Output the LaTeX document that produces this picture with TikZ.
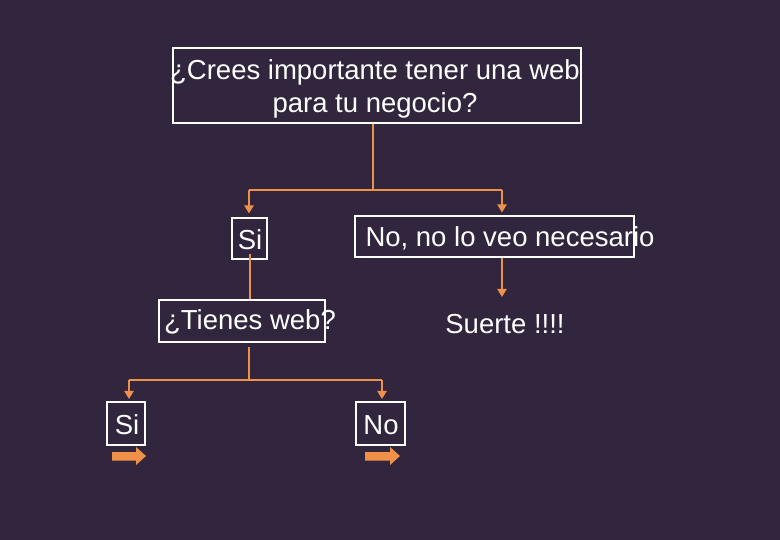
\documentclass[tikz,border=0pt]{standalone}
\usepackage{fontspec}
\setmainfont{Liberation Sans}
\usetikzlibrary{arrows.meta}
\definecolor{bgc}{HTML}{32263F}
\definecolor{orng}{HTML}{F0914A}
\begin{document}
\begin{tikzpicture}[x=1pt,y=-1pt,
  box/.style={draw=white,line width=2.6pt,inner sep=0pt,minimum width=#1},
  lbl/.style={text=white,font=\fontsize{27.5}{33}\selectfont,inner sep=0pt,align=center},
  con/.style={draw=orng,line width=2pt},
  arr/.style={con,-{Triangle[width=9pt,length=8pt]}},
  barrow/.style={fill=orng,draw=none}]
\fill[bgc] (0,0) rectangle (780,540);
\useasboundingbox (0,0) rectangle (780,540);
% boxes
\node[box=408pt,minimum height=75pt] (top) at (377,85.5) {};
\node[box=35pt,minimum height=41pt] (si1) at (249.5,238.5) {};
\node[box=279pt,minimum height=41pt] (no1) at (494.5,236.5) {};
\node[box=166pt,minimum height=42pt] (tw) at (242,321) {};
\node[box=38pt,minimum height=43pt] (si2) at (126,423.5) {};
\node[box=49pt,minimum height=43pt] (no2) at (380.5,423.5) {};
% texts
\node[lbl] (toptxt) at (375,88.5) {¿Crees importante tener una web\\para tu negocio?};
\node[lbl] (si1txt) at (250,240) {Si};
\node[lbl] (no1txt) at (510,238) {No, no lo veo necesario};
\node[lbl] (twtxt) at (250,322) {¿Tienes web?};
\node[lbl] (suerte) at (505,324) {Suerte !!!!};
\node[lbl] (si2txt) at (127,425) {Si};
\node[lbl] (no2txt) at (381,425) {No};
% connectors
\coordinate (b1) at (373,190);
\coordinate (b1l) at (249,190);
\coordinate (b1r) at (502,190);
\draw[con] (top.south -| b1) -- (b1);
\draw[con] (b1l) -- (b1r);
\draw[arr] (b1l) -- (249,213.5) coordinate (e1);
\draw[arr] (b1r) -- (502,212.5) coordinate (e2);
\draw[con] ([yshift=6pt]si1.south) -- (tw.north -| si1.south);
\draw[arr] (no1.south -| b1r) -- (502,297) coordinate (e3);
\coordinate (b2) at (249,380);
\coordinate (b2l) at (129,380);
\coordinate (b2r) at (382,380);
\draw[con] (249,347) -- (b2);
\draw[con] (b2l) -- (b2r);
\draw[arr] (b2l) -- (129,399) coordinate (e4);
\draw[arr] (b2r) -- (382,399) coordinate (e5);
% block arrows
\fill[barrow] (112,452) -- (136,452) -- (136,447) -- (146,456) -- (136,465) -- (136,460.5) -- (112,460.5) -- cycle;
\fill[barrow] (365,452) -- (390,452) -- (390,447) -- (400,456) -- (390,465) -- (390,460.5) -- (365,460.5) -- cycle;
\end{tikzpicture}
\end{document}
